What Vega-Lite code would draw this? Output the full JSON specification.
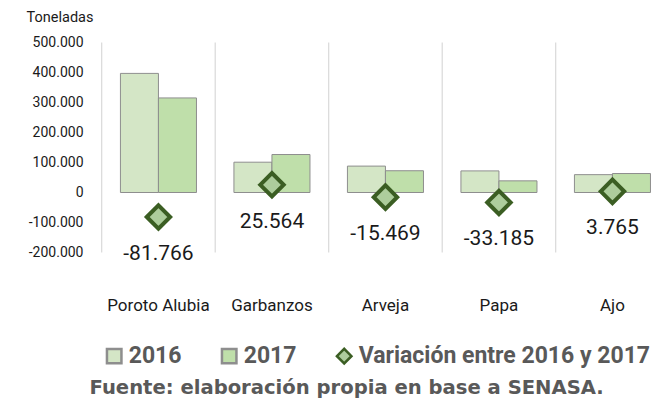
{
  "$schema": "https://vega.github.io/schema/vega-lite/v6.json",
  "width": 551.3,
  "height": 210,
  "autosize": {"type": "none"},
  "padding": {"left": 101.7, "top": 42.5, "right": 0, "bottom": 147.5},
  "background": "white",
  "config": {
    "view": {"stroke": null},
    "locale": {"number": {"decimal": ",", "thousands": ".", "grouping": [3], "currency": ["$", ""], "minus": "-"}},
    "font": "Roboto, sans-serif",
    "axisY": {
      "labelOverlap": false,
      "labelFlush": false,
      "grid": false,
      "domain": false,
      "ticks": false,
      "tickSize": 0,
      "labelPadding": 18.7,
      "labelFontSize": 14,
      "labelColor": "#1a1a1a",
      "titleAngle": 0,
      "titleFontSize": 14.5,
      "titleFontWeight": "normal",
      "titleColor": "#1a1a1a",
      "titleAlign": "center",
      "titleBaseline": "alphabetic",
      "titleX": -42.2,
      "titleY": -20.8
    },
    "axisX": {
      "labelAngle": 0,
      "labelFontSize": 17,
      "labelColor": "#1a1a1a",
      "labelBaseline": "alphabetic",
      "labelPadding": 58,
      "ticks": false,
      "tickSize": 0,
      "domain": false,
      "grid": false,
      "bandPosition": 0.5,
      "titleFont": "DejaVu Sans",
      "titleFontWeight": "bold",
      "titleFontSize": 19.6,
      "titleColor": "#595959",
      "titleAlign": "left",
      "titleBaseline": "alphabetic",
      "titleX": -12.7,
      "titleY": 140.5
    }
  },
  "datasets": {
    "bars": [
      {"producto": "Poroto Alubia", "serie": "2016", "valor": 397000},
      {"producto": "Poroto Alubia", "serie": "2017", "valor": 315234},
      {"producto": "Garbanzos", "serie": "2016", "valor": 101000},
      {"producto": "Garbanzos", "serie": "2017", "valor": 126564},
      {"producto": "Arveja", "serie": "2016", "valor": 88000},
      {"producto": "Arveja", "serie": "2017", "valor": 72531},
      {"producto": "Papa", "serie": "2016", "valor": 72000},
      {"producto": "Papa", "serie": "2017", "valor": 38815},
      {"producto": "Ajo", "serie": "2016", "valor": 59500},
      {"producto": "Ajo", "serie": "2017", "valor": 63265}
    ],
    "var": [
      {"producto": "Poroto Alubia", "serie": "Variación entre 2016 y 2017", "valor": -81766},
      {"producto": "Garbanzos", "serie": "Variación entre 2016 y 2017", "valor": 25564},
      {"producto": "Arveja", "serie": "Variación entre 2016 y 2017", "valor": -15469},
      {"producto": "Papa", "serie": "Variación entre 2016 y 2017", "valor": -33185},
      {"producto": "Ajo", "serie": "Variación entre 2016 y 2017", "valor": 3765}
    ]
  },
  "encoding": {
    "x": {
      "field": "producto", "type": "nominal",
      "sort": ["Poroto Alubia", "Garbanzos", "Arveja", "Papa", "Ajo"],
      "scale": {"range": [0, 567.5], "paddingInner": 0.33, "paddingOuter": 0.165},
      "axis": {"title": "Fuente: elaboración propia en base a SENASA."}
    }
  },
  "layer": [
    {
      "data": {"name": "var"},
      "mark": {"type": "rule", "color": "#d9d9d9", "strokeWidth": 1.2, "xOffset": -56.75},
      "encoding": {}
    },
    {
      "data": {"name": "bars"},
      "mark": {"type": "bar", "strokeWidth": 1},
      "encoding": {
        "xOffset": {"field": "serie", "type": "nominal", "scale": {"domain": ["2016", "2017"], "paddingInner": 0, "paddingOuter": 0}},
        "y": {
          "field": "valor", "type": "quantitative",
          "scale": {"domain": [-200000, 500000], "nice": false},
          "axis": {
            "values": [-200000, -100000, 0, 100000, 200000, 300000, 400000, 500000],
            "tickCount": 8,
            "format": ",d",
            "title": "Toneladas"
          }
        },
        "fill": {
          "field": "serie", "type": "nominal",
          "scale": {"domain": ["2016", "2017", "Variación entre 2016 y 2017"], "range": ["#d4e6c6", "#bfdfaa", "#adcd9c"]},
          "legend": {
            "orient": "none",
            "legendX": 1,
            "legendY": 302,
            "direction": "horizontal",
            "title": null,
            "padding": 0,
            "columnPadding": 35,
            "labelOffset": 3,
            "symbolSize": 210,
            "symbolStrokeWidth": 2.5,
            "labelFontSize": 23,
            "labelFontWeight": "bold",
            "labelColor": "#595959",
            "labelLimit": 400,
            "symbolOpacity": 1
          }
        },
        "stroke": {
          "field": "serie", "type": "nominal",
          "scale": {"domain": ["2016", "2017", "Variación entre 2016 y 2017"], "range": ["#8e8e8e", "#8e8e8e", "#3b5e23"]},
          "legend": {"title": null}
        }
      }
    },
    {
      "data": {"name": "var"},
      "mark": {"type": "point", "filled": true, "size": 548, "strokeWidth": 4, "opacity": 1, "fillOpacity": 1, "strokeOpacity": 1},
      "encoding": {
        "y": {"field": "valor", "type": "quantitative"},
        "fill": {"field": "serie", "type": "nominal"},
        "stroke": {"field": "serie", "type": "nominal"},
        "shape": {
          "field": "serie", "type": "nominal",
          "scale": {"domain": ["2016", "2017", "Variación entre 2016 y 2017"], "range": ["square", "square", "diamond"]},
          "legend": {"title": null}
        }
      }
    },
    {
      "data": {"name": "var"},
      "mark": {"type": "text", "dy": 43, "baseline": "alphabetic", "align": "center", "fontSize": 21, "color": "#1a1a1a"},
      "encoding": {
        "y": {"field": "valor", "type": "quantitative"},
        "text": {"field": "valor", "type": "quantitative", "format": ",d"}
      }
    }
  ]
}
